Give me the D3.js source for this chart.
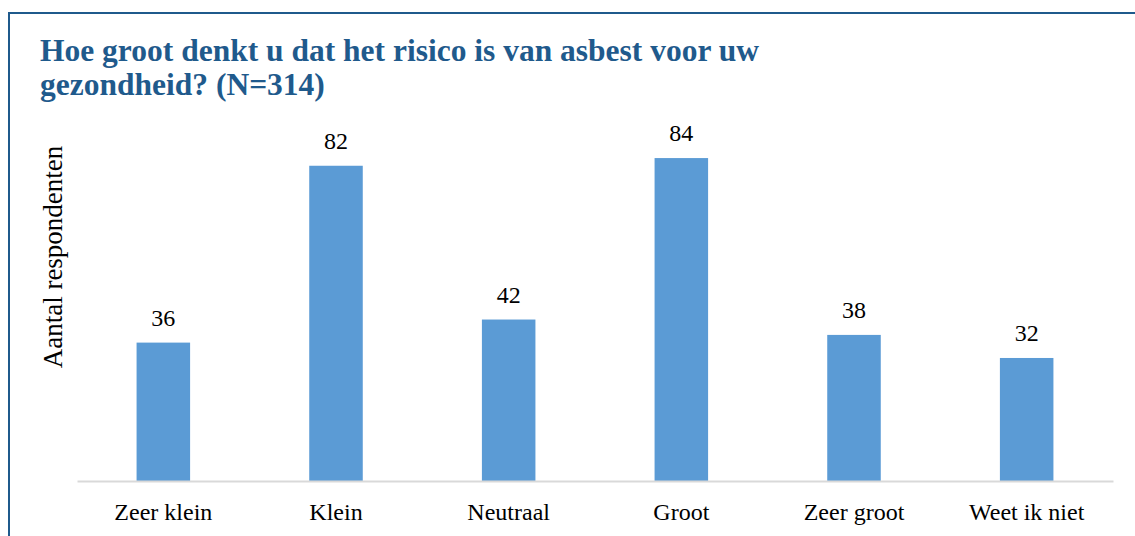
<!DOCTYPE html>
<html>
<head>
<meta charset="utf-8">
<script src="https://d3js.org/d3.v7.min.js"></script>
<style>
body { margin: 0; background: #fff; }
svg text { font-family: "Liberation Serif", serif; }
</style>
</head>
<body>
<script>
// data
var categories = ["Zeer klein", "Klein", "Neutraal", "Groot", "Zeer groot", "Weet ik niet"];
var counts = [36, 82, 42, 84, 38, 32];
var titleLines = ["Hoe groot denkt u dat het risico is van asbest voor uw", "gezondheid? (N=314)"];
var yLabel = "Aantal respondenten";

var W = 1135, H = 536;
var margin = {top: 135, right: 22, bottom: 55, left: 77};
var width = W - margin.left - margin.right,
    height = H - margin.top - margin.bottom;

var data = categories.map(function(c, i) { return {cat: c, n: counts[i]}; });

var svg = d3.select("body").append("svg")
    .attr("width", W)
    .attr("height", H);

// frame
svg.append("rect")
    .attr("x", 9).attr("y", 13)
    .attr("width", W).attr("height", H)
    .attr("fill", "none")
    .attr("stroke", "#1F5A8C")
    .attr("stroke-width", 2);

svg.selectAll(".title")
    .data(titleLines)
    .enter().append("text")
    .attr("class", "title")
    .attr("x", 40)
    .attr("y", function(d, i) { return 61 + i * 34; })
    .attr("fill", "#1F5A8C")
    .style("font-weight", "bold")
    .style("font-size", "31.5px")
    .text(function(d) { return d; });

var g = svg.append("g")
    .attr("transform", "translate(" + margin.left + "," + margin.top + ")");

var x = d3.scaleBand().domain(categories).range([0, width]).paddingInner(0.69).paddingOuter(0.345);
var y = d3.scaleLinear().domain([0, 90]).range([height, 0]);

g.selectAll(".bar")
    .data(data)
    .enter().append("rect")
    .attr("class", "bar")
    .attr("x", function(d) { return x(d.cat); })
    .attr("y", function(d) { return y(d.n); })
    .attr("width", x.bandwidth())
    .attr("height", function(d) { return height - y(d.n); })
    .attr("fill", "#5B9BD5");

g.selectAll(".val")
    .data(data)
    .enter().append("text")
    .attr("class", "val")
    .attr("x", function(d) { return x(d.cat) + x.bandwidth() / 2; })
    .attr("y", function(d) { return y(d.n) - 17; })
    .attr("text-anchor", "middle")
    .style("font-size", "24px")
    .attr("fill", "#000")
    .text(function(d) { return d.n; });

var xAxis = g.append("g")
    .attr("transform", "translate(0," + height + ")")
    .call(d3.axisBottom(x).tickSize(0));
xAxis.select(".domain").attr("stroke", "#D9D9D9").attr("stroke-width", 2);
xAxis.selectAll("text")
    .attr("y", 39)
    .attr("dy", 0)
    .style("font-family", "Liberation Serif, serif")
    .style("font-size", "24px")
    .attr("fill", "#000");

svg.append("text")
    .attr("transform", "translate(62,257) rotate(-90)")
    .attr("text-anchor", "middle")
    .style("font-size", "27px")
    .attr("fill", "#000")
    .text(yLabel);
</script>
</body>
</html>
